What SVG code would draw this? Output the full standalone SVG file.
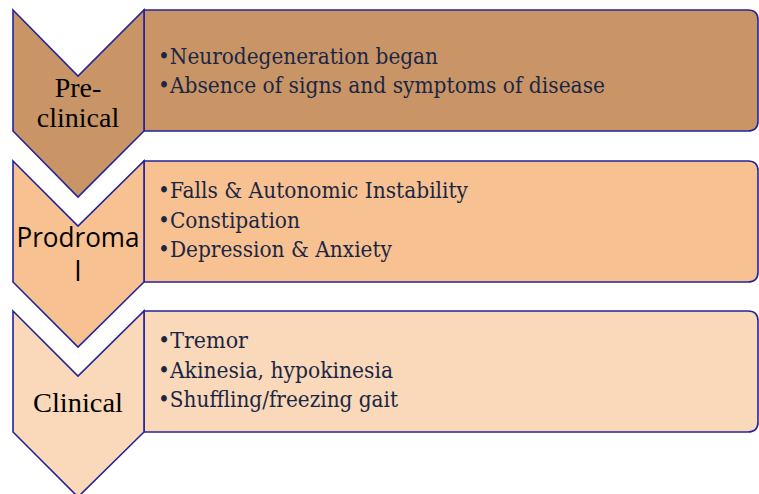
<svg xmlns="http://www.w3.org/2000/svg" width="759" height="494" viewBox="0 0 759 494">
<style>
.sh{stroke:#24249a;stroke-width:1.6;stroke-linejoin:miter}
.c1{fill:#c99566}.c2{fill:#f8c191}.c3{fill:#fad8ba}
.bt{font-family:"DejaVu Serif","Liberation Serif",serif;font-size:22px;fill:#1a2744}
.lt{font-family:"Liberation Serif",serif;font-size:28px;fill:#000}
.ls{font-family:"Open Sans","DejaVu Sans",sans-serif;font-size:27px;fill:#000}
</style>
<rect width="759" height="494" fill="#fff"/>
<g id="connectors"></g>
<g id="preclinical">
<path class="sh c1" d="M144,10 H748 Q758,10 758,20 V121 Q758,131 748,131 H144 Z"/>
<path class="sh c1" d="M13,10 L78,76 L144,10 V131 L78,197 L13,131 Z"/>
<text class="lt" x="78" y="97" text-anchor="middle">Pre-</text>
<text class="lt" x="78" y="127" text-anchor="middle">clinical</text>
<text class="bt" x="158" y="64" textLength="280" lengthAdjust="spacingAndGlyphs">•Neurodegeneration began</text>
<text class="bt" x="158" y="93" textLength="447" lengthAdjust="spacingAndGlyphs">•Absence of signs and symptoms of disease</text>
</g>
<g id="prodromal">
<path class="sh c2" d="M144,161 H748 Q758,161 758,171 V272 Q758,282 748,282 H144 Z"/>
<path class="sh c2" d="M13,161 L78,226 L144,161 V282 L78,347 L13,282 Z"/>
<text class="ls" x="78" y="247" text-anchor="middle" textLength="123" lengthAdjust="spacingAndGlyphs">Prodroma</text>
<text class="ls" x="78" y="281" text-anchor="middle">l</text>
<text class="bt" x="158" y="198" textLength="310" lengthAdjust="spacingAndGlyphs">•Falls &amp; Autonomic Instability</text>
<text class="bt" x="158" y="228" textLength="142" lengthAdjust="spacingAndGlyphs">•Constipation</text>
<text class="bt" x="158" y="257" textLength="234" lengthAdjust="spacingAndGlyphs">•Depression &amp; Anxiety</text>
</g>
<g id="clinical">
<path class="sh c3" d="M144,311 H748 Q758,311 758,321 V422 Q758,432 748,432 H144 Z"/>
<path class="sh c3" d="M13,311 L78,376 L144,311 V432 L78,497 L13,432 Z"/>
<text class="lt" x="78" y="412" text-anchor="middle" textLength="90" lengthAdjust="spacingAndGlyphs">Clinical</text>
<text class="bt" x="158" y="348" textLength="90" lengthAdjust="spacingAndGlyphs">•Tremor</text>
<text class="bt" x="158" y="378" textLength="235" lengthAdjust="spacingAndGlyphs">•Akinesia, hypokinesia</text>
<text class="bt" x="158" y="407" textLength="240" lengthAdjust="spacingAndGlyphs">•Shuffling/freezing gait</text>
</g>
</svg>
